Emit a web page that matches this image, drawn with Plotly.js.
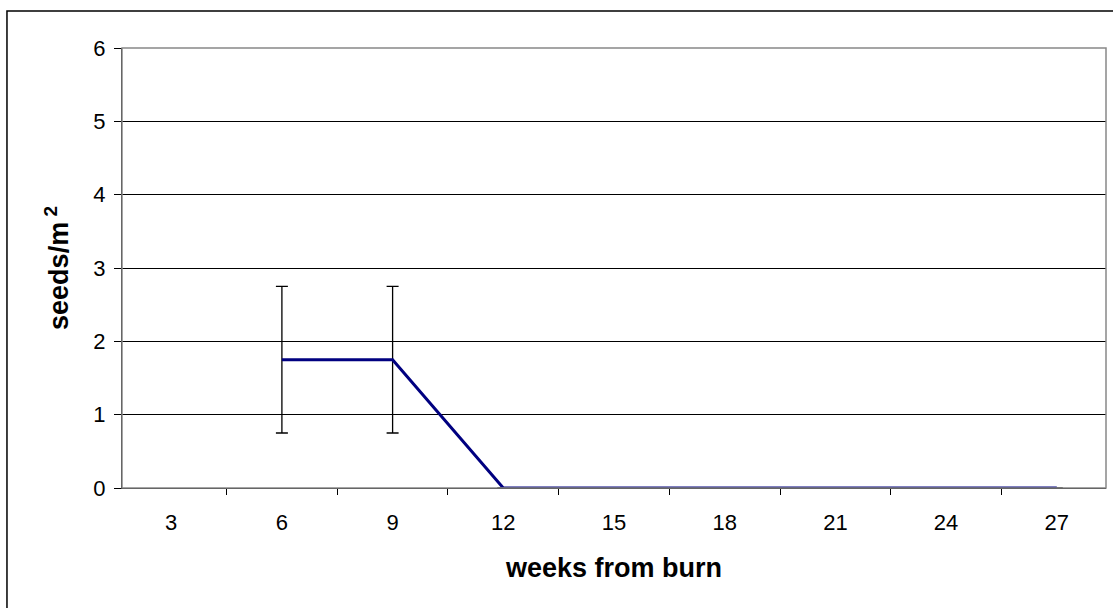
<!DOCTYPE html>
<html>
<head>
<meta charset="utf-8">
<script src="https://cdn.plot.ly/plotly-3.0.1.min.js"></script>
<style>
  html, body { margin: 0; padding: 0; background: #fff; overflow: hidden; }
  #chart { width: 1113px; height: 608px; }
</style>
</head>
<body>
<div id="chart"></div>
<script>
// Weeks after the burn (category labels on the x axis)
const weeks = ['3', '6', '9', '12', '15', '18', '21', '24', '27'];
// Mean seed density, seeds per square metre (no sample at week 3)
const seedsPerM2 = [null, 1.75, 1.75, 0, 0, 0, 0, 0, 0];
// Error bar half-widths
const seedErr = [null, 1, 1, 0, 0, 0, 0, 0, 0];
// Y axis tick values
const yTicks = [0, 1, 2, 3, 4, 5, 6];

const FONT = 'Liberation Sans, Arial, sans-serif';

const trace = {
  x: weeks,
  y: seedsPerM2,
  type: 'scatter',
  mode: 'lines',
  connectgaps: false,
  line: { color: '#000080', width: 3 },
  error_y: {
    type: 'data',
    array: seedErr,
    visible: true,
    color: '#000000',
    thickness: 1.3,
    width: 6
  },
  hoverinfo: 'x+y',
  showlegend: false
};

const layout = {
  width: 1113,
  height: 608,
  margin: { l: 122, r: 7, t: 48, b: 120 },
  paper_bgcolor: '#ffffff',
  plot_bgcolor: '#ffffff',
  font: { family: FONT, color: '#000' },
  showlegend: false,
  xaxis: {
    type: 'category',
    categoryorder: 'array',
    categoryarray: weeks,
    tickson: 'boundaries',
    ticks: 'outside',
    ticklen: 6,
    tickcolor: '#000',
    tickwidth: 1,
    ticklabelstandoff: 14,
    showline: true,
    linecolor: '#000',
    linewidth: 1.2,
    showgrid: false,
    zeroline: false,
    tickfont: { size: 22, family: FONT },
    title: {
      text: 'weeks from burn',
      font: { size: 27, family: FONT, weight: 'bold' },
      standoff: 24
    }
  },
  yaxis: {
    range: [0, 6],
    tickvals: yTicks,
    ticks: 'outside',
    ticklen: 7,
    tickcolor: '#000',
    tickwidth: 1,
    ticklabelstandoff: 4,
    showline: true,
    linecolor: '#000',
    linewidth: 1.2,
    showgrid: true,
    gridcolor: '#000',
    gridwidth: 1,
    zeroline: false,
    tickfont: { size: 22, family: FONT },
    title: {
      text: 'seeds/m<sup> 2</sup>',
      font: { size: 27, family: FONT, weight: 'bold' },
      standoff: 16
    }
  },
  shapes: [
    // gray frame along the top and right of the plot area
    {
      type: 'rect', xref: 'paper', yref: 'paper',
      x0: 0, x1: 1, y0: 0, y1: 1,
      line: { color: '#888888', width: 1.5 },
      layer: 'above'
    },
    // outer chart border
    {
      type: 'rect', xref: 'paper', yref: 'paper',
      x0: -0.1169, x1: 1.3, y0: -0.6, y1: 1.0841,
      line: { color: '#000000', width: 1.5 },
      layer: 'above'
    }
  ]
};

Plotly.newPlot('chart', [trace], layout, { displayModeBar: false, staticPlot: true });
</script>
</body>
</html>
